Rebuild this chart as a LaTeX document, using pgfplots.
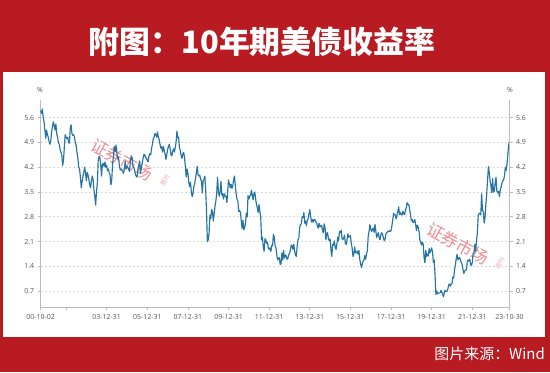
\documentclass[border=0pt]{standalone}
\usepackage{pgfplots}
\usepackage{pgfplotstable}
\pgfplotsset{compat=1.18}
\usepackage{fontspec}
\setmainfont{Open Sans}
\newfontfamily\cjk{Noto Sans CJK SC}
\definecolor{bgred}{HTML}{B81C22}
\definecolor{yline}{HTML}{2474A4}
\definecolor{wm}{HTML}{E8676C}
\definecolor{axgray}{HTML}{BBBBBB}
\definecolor{lblgray}{HTML}{555555}

\pgfplotstableread{
t v
9.03 5.80
9.5 5.72
10 5.85
10.5 5.62
11 5.48
11.5 5.25
12 5.02
12.5 5.25
13 5.12
13.5 5.05
14 4.92
14.5 4.85
15 4.95
15.5 5.20
16 5.35
16.5 5.48
17 5.38
17.5 5.25
18 5.42
18.5 5.15
19 5.05
19.5 4.90
20 4.85
20.5 4.70
21 4.62
21.5 4.55
22 4.25
22.5 4.40
23 4.78
23.5 5.12
24 5.05
24.5 5.00
25 5.05
25.5 4.90
26 4.88
26.5 5.30
27 5.40
27.5 5.15
28 5.10
28.5 5.12
29 5.05
29.5 4.88
30 4.82
30.5 4.60
31 4.45
31.5 4.20
32 4.15
32.5 3.90
33 3.62
33.5 3.80
34 3.95
34.5 4.05
35 4.20
35.5 4.05
36 3.82
36.5 4.05
37 3.98
37.5 3.85
38 3.70
38.5 3.62
39 3.82
39.5 3.95
40 3.85
40.5 3.55
41 3.38
41.5 3.13
42 3.52
42.5 3.75
43 4.40
43.5 4.50
44 4.48
44.5 4.25
45 3.95
45.5 4.30
46 4.30
46.5 4.22
47 4.35
47.5 4.20
48 4.25
48.5 4.10
49 4.15
49.5 4.05
50 3.98
50.5 3.70
51 3.84
51.5 4.30
52 4.50
52.5 4.78
53 4.65
53.5 4.83
54 4.62
54.5 4.45
55 4.48
55.5 4.25
56 4.12
56.5 4.15
57 4.12
57.5 4.08
58 4.03
58.5 4.20
59 4.36
59.5 4.15
60 4.22
60.5 4.20
61 4.14
61.5 4.08
62 4.36
62.5 4.52
63 4.48
63.5 4.25
64 4.20
64.5 4.12
65 4.00
65.5 3.94
66 3.92
66.5 4.15
67 4.28
67.5 4.38
68 4.02
68.5 4.18
69 4.32
69.5 4.45
70 4.56
70.5 4.55
71 4.48
71.5 4.45
72 4.39
72.5 4.35
73 4.52
73.5 4.58
74 4.55
74.5 4.72
75 4.85
75.5 5.00
76 5.05
76.5 5.15
77 5.12
77.5 5.05
78 5.20
78.5 5.05
79 4.98
79.5 4.85
80 4.74
80.5 4.78
81 4.63
81.5 4.78
82 4.68
82.5 4.58
83 4.42
83.5 4.55
84 4.70
84.5 4.78
85 4.85
85.5 4.72
86 4.55
86.5 4.52
87 4.65
87.5 4.72
88 4.63
88.5 4.75
89 4.90
89.5 5.22
90 5.03
90.5 5.05
91 4.75
91.5 4.68
92 4.53
92.5 4.45
93 4.58
93.5 4.62
94 4.47
94.5 4.20
95 3.92
95.5 4.15
96 4.03
96.5 3.78
97 3.65
97.5 3.78
98 3.52
98.5 3.37
99 3.45
99.5 3.65
100 3.75
100.5 3.88
101 4.05
101.5 4.22
102 3.98
102.5 3.95
103 3.98
103.5 3.85
104 3.82
104.5 3.47
105 3.82
105.5 3.85
106 3.95
106.5 3.55
107 2.95
107.5 2.10
108 2.15
108.5 2.35
109 2.85
109.5 2.75
110 3.00
110.5 2.95
111 2.68
111.5 2.88
112 3.10
112.5 3.25
113 3.45
113.5 3.92
114 3.52
114.5 3.38
115 3.50
115.5 3.80
116 3.42
116.5 3.45
117 3.30
117.5 3.45
118 3.38
118.5 3.38
119 3.20
119.5 3.52
120 3.84
120.5 3.72
121 3.62
121.5 3.72
122 3.60
122.5 3.68
123 3.85
123.5 3.95
124 3.68
124.5 3.45
125 3.30
125.5 3.25
126 2.95
126.5 2.98
127 2.92
127.5 2.70
128 2.47
128.5 2.70
129 2.43
129.5 2.50
130 2.60
130.5 2.90
131 2.80
131.5 3.40
132 3.30
132.5 3.38
133 3.40
133.5 3.55
134 3.42
134.5 3.28
135 3.45
135.5 3.50
136 3.30
136.5 3.15
137 3.05
137.5 2.92
138 3.15
138.5 2.95
139 2.80
139.5 2.15
140 2.22
140.5 1.95
141 1.82
141.5 2.18
142 2.15
142.5 2.05
143 2.08
143.5 1.92
144 1.88
144.5 1.92
145 1.82
145.5 2.00
146 1.98
146.5 2.30
147 2.22
147.5 1.98
148 1.92
148.5 1.72
149 1.58
149.5 1.62
150 1.65
150.5 1.45
151 1.48
151.5 1.78
152 1.58
152.5 1.85
153 1.63
153.5 1.72
154 1.70
154.5 1.60
155 1.62
155.5 1.72
156 1.76
156.5 1.85
157 2.00
157.5 1.98
158 1.88
158.5 2.02
159 1.85
159.5 1.72
160 1.68
160.5 1.95
161 2.15
161.5 2.20
162 2.50
162.5 2.58
163 2.60
163.5 2.80
164 2.78
164.5 2.92
165 2.62
165.5 2.68
166 2.55
166.5 2.70
167 2.75
167.5 2.88
168 3.00
168.5 2.82
169 2.65
169.5 2.72
170 2.65
170.5 2.72
171 2.72
171.5 2.65
172 2.65
172.5 2.52
173 2.48
173.5 2.62
174 2.53
174.5 2.52
175 2.56
175.5 2.40
176 2.35
176.5 2.60
177 2.50
177.5 2.15
178 2.33
178.5 2.35
179 2.18
179.5 2.12
180 2.17
180.5 1.85
181 1.68
181.5 2.02
182 2.00
182.5 2.12
183 1.93
183.5 1.88
184 2.03
184.5 2.22
185 2.12
185.5 2.38
186 2.35
186.5 2.42
187 2.20
187.5 2.15
188 2.20
188.5 2.28
189 2.05
189.5 2.02
190 2.15
190.5 2.32
191 2.22
191.5 2.25
192 2.27
192.5 2.05
193 1.92
193.5 1.68
194 1.74
194.5 1.95
195 1.78
195.5 1.78
196 1.83
196.5 1.75
197 1.85
197.5 1.60
198 1.47
198.5 1.37
199 1.46
199.5 1.55
200 1.58
200.5 1.70
201 1.60
201.5 1.75
202 1.84
202.5 2.25
203 2.38
203.5 2.58
204 2.45
204.5 2.38
205 2.45
205.5 2.48
206 2.36
206.5 2.58
207 2.40
207.5 2.22
208 2.28
208.5 2.35
209 2.20
209.5 2.15
210 2.30
210.5 2.35
211 2.30
211.5 2.20
212 2.12
212.5 2.18
213 2.33
213.5 2.35
214 2.38
214.5 2.38
215 2.41
215.5 2.38
216 2.41
216.5 2.55
217 2.72
217.5 2.90
218 2.86
218.5 2.85
219 2.74
219.5 2.85
220 2.95
220.5 3.08
221 2.86
221.5 2.92
222 2.86
222.5 2.85
223 2.96
223.5 2.88
224 2.86
224.5 2.98
225 3.06
225.5 3.20
226 3.14
226.5 3.15
227 3.00
227.5 2.85
228 2.69
228.5 2.72
229 2.63
229.5 2.66
230 2.72
230.5 2.60
231 2.41
231.5 2.56
232 2.51
232.5 2.40
233 2.14
233.5 2.08
234 2.00
234.5 2.08
235 2.02
235.5 1.65
236 1.50
236.5 1.85
237 1.68
237.5 1.75
238 1.69
238.5 1.90
239 1.78
239.5 1.85
240 1.92
240.5 1.80
241 1.51
241.5 1.58
242 1.15
242.5 0.60
243 0.70
243.5 0.62
244 0.64
244.5 0.65
245 0.65
245.5 0.72
246 0.66
246.5 0.62
247 0.54
247.5 0.68
248 0.72
248.5 0.68
249 0.69
249.5 0.75
250 0.87
250.5 0.90
251 0.84
251.5 0.90
252 0.92
252.5 1.10
253 1.07
253.5 1.30
254 1.44
254.5 1.62
255 1.74
255.5 1.58
256 1.63
256.5 1.65
257 1.58
257.5 1.50
258 1.45
258.5 1.30
259 1.20
259.5 1.26
260 1.30
260.5 1.30
261 1.52
261.5 1.58
262 1.55
262.5 1.60
263 1.45
263.5 1.42
264 1.52
264.5 1.78
265 1.78
265.5 2.02
266 1.83
266.5 2.15
267 2.35
267.5 2.85
268 2.89
268.5 2.90
269 2.85
269.5 3.45
270 2.98
270.5 2.95
271 2.62
271.5 2.78
272 3.15
272.5 3.45
273 3.83
273.5 4.22
274 4.05
274.5 3.82
275 3.68
275.5 3.48
276 3.88
276.5 3.50
277 3.52
277.5 3.75
278 3.92
278.5 3.52
279 3.48
279.5 3.52
280 3.37
280.5 3.55
281 3.64
281.5 3.75
282 3.81
282.5 3.85
283 3.96
283.5 4.20
284 4.11
284.5 4.30
285 4.57
285.5 4.85
285.97 4.93
}\yield

\begin{document}
\begin{tikzpicture}[x=1bp,y=1bp]
\fill[bgred] (0,0) rectangle (550,372);
\fill[white] (3,35) rectangle (545,300);
\node[white,font=\cjk\bfseries\fontsize{31}{31}\selectfont,inner sep=0] at (262,330) {附图：10年期美债收益率};
\node[white,anchor=east,font=\cjk\fontsize{15}{15}\selectfont,inner sep=0] at (545,18) {图片来源：Wind};
% watermarks
\node[wm,opacity=0.75,rotate=-28,font=\cjk\fontsize{17}{17}\selectfont,inner sep=0] at (122,212) {证券市场};
\node[wm,opacity=0.75,rotate=-28,font=\cjk\fontsize{17}{17}\selectfont,inner sep=0] at (458,128) {证券市场};
\node[wm,opacity=0.6,rotate=62,font=\cjk\fontsize{6}{6}\selectfont,inner sep=0] at (165,192) {周刊};
\node[wm,opacity=0.6,rotate=62,font=\cjk\fontsize{6}{6}\selectfont,inner sep=0] at (500,109) {周刊};
\begin{axis}[
  at={(40.7bp,65bp)}, anchor=south west, scale only axis,
  width=468.8bp, height=207bp,
  xmin=9.03, xmax=285.97, ymin=0.25, ymax=6.1,
  axis x line*=bottom, axis y line*=left,
  axis line style={draw=axgray, line width=0.8bp, -},
  tick style={draw=axgray, line width=0.7bp},
  major tick length=3bp, tick align=outside,
  xtick={9.03,24,48,72,96,120,144,168,192,216,240,264,285.97},
  xticklabels={00-10-02,,03-12-31,05-12-31,07-12-31,09-12-31,11-12-31,13-12-31,15-12-31,17-12-31,19-12-31,21-12-31,23-10-30},
  ytick={0.7,1.4,2.1,2.8,3.5,4.2,4.9,5.6},
  yticklabel style={/pgf/number format/.cd, fixed, fixed zerofill, precision=1, assume math mode=true},
  ticklabel style={font=\fontsize{7}{7}\selectfont, text=lblgray},
  xticklabel style={yshift=-1bp},
  ymajorgrids, major grid style={draw=black!15, dash pattern=on 2bp off 2bp, line width=0.6bp},
  clip=false,
]
\addplot[yline, line width=1.15bp, line join=round] table[x=t,y=v] {\yield};
\end{axis}
\begin{axis}[
  at={(40.7bp,65bp)}, anchor=south west, scale only axis,
  width=468.8bp, height=207bp,
  xmin=9.03, xmax=285.97, ymin=0.25, ymax=6.1,
  axis x line=none, axis y line*=right,
  axis line style={draw=axgray, line width=0.8bp, -},
  tick style={draw=axgray, line width=0.7bp},
  major tick length=3bp, tick align=outside,
  ytick={0.7,1.4,2.1,2.8,3.5,4.2,4.9,5.6},
  yticklabel style={/pgf/number format/.cd, fixed, fixed zerofill, precision=1, assume math mode=true},
  ticklabel style={font=\fontsize{7}{7}\selectfont, text=lblgray},
]
\end{axis}
\node[font=\fontsize{7}{7}\selectfont, text=lblgray] at (40,282) {\%};
\node[font=\fontsize{7}{7}\selectfont, text=lblgray] at (510,282) {\%};
\end{tikzpicture}
\end{document}
